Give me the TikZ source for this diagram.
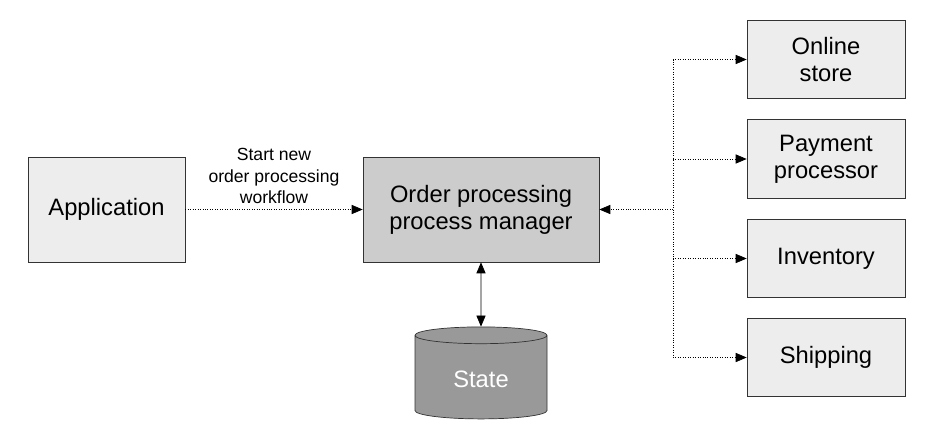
\documentclass[tikz,border=0pt]{standalone}
\usepackage{fontspec}
\setmainfont{Liberation Sans}
\usetikzlibrary{arrows,shapes.geometric,positioning}

\begin{document}
\begin{tikzpicture}[>=triangle 45,
    box/.style={draw=black!80, fill=black!7, align=center, font=\fontsize{13.5}{15.5}\selectfont, inner sep=0pt},
    svc/.style={box, minimum width=3.16cm, minimum height=1.57cm},
    flow/.style={densely dotted, ->}]
    \useasboundingbox (0,0) rectangle (18.74,-8.92);

    \node[box, minimum width=3.14cm, minimum height=2.1cm] (app) at (2.13,-4.19) {Application};
    \node[box, fill=black!20, minimum width=4.72cm, minimum height=2.1cm] (pm) at (9.62,-4.19) {Order processing\\process manager};
    \node[cylinder, shape border rotate=90, aspect=0.25, draw=black!80, fill=black!40,
          minimum width=2.64cm, minimum height=1.84cm, text=white,
          font=\fontsize{13.5}{15.5}\selectfont] (state) at (9.62,-7.58) {State};

    \node[svc] (store) at (16.52,-1.19) {Online\\store};
    \node[svc] (pay) at (16.52,-3.18) {Payment\\processor};
    \node[svc] (inv) at (16.52,-5.17) {Inventory};
    \node[svc] (ship) at (16.52,-7.15) {Shipping};

    \coordinate (bus) at (13.46,-4.19);

    \draw[flow] (app) -- node[above, align=center, font=\fontsize{10}{12}\selectfont] {Start new\\order processing\\workflow} (pm);
    \draw[<->] (pm) -- (state);
    \draw[flow] (bus) -- (pm);
    \draw[densely dotted] (bus |- store) -- (bus |- ship);
    \foreach \s in {store,pay,inv,ship}
        \draw[flow] (bus |- \s) -- (\s);
\end{tikzpicture}
\end{document}
